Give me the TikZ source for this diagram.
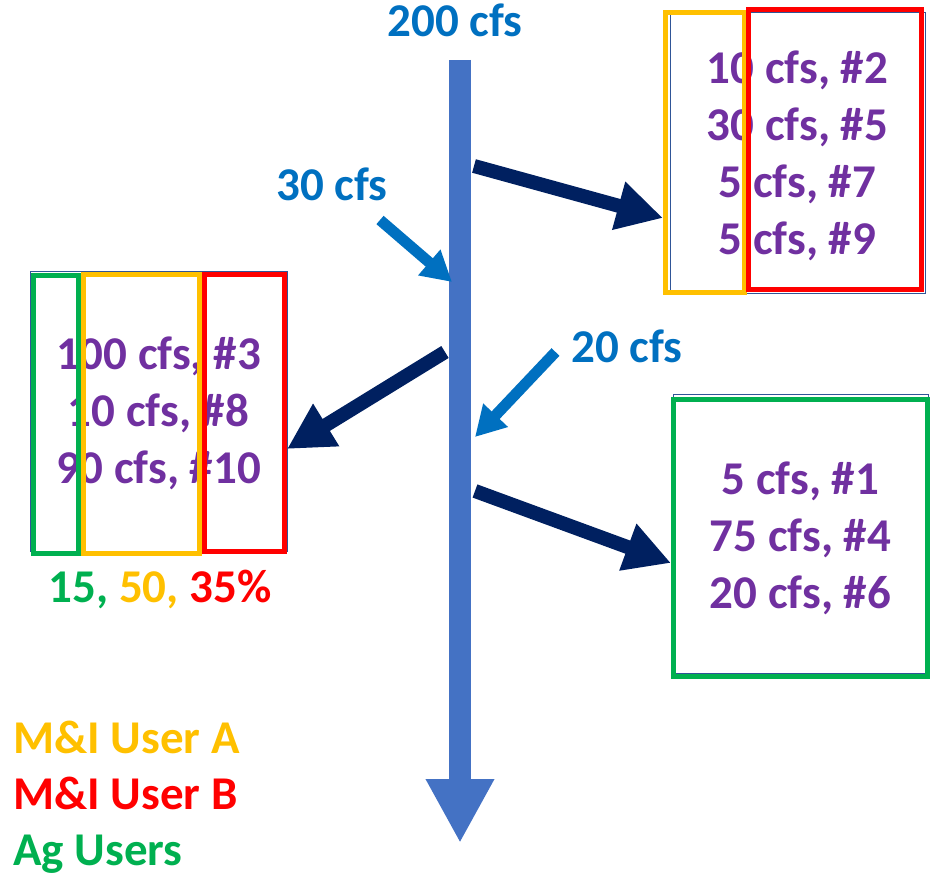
\documentclass[tikz,border=0pt]{standalone}
\usepackage{fontspec}
\setmainfont{Carlito}
\usepackage{tikz}
\usetikzlibrary{
  arrows.meta,
  positioning,  % Function "of" (e.g. [below=of x])
}
\definecolor{flowblue}{HTML}{4472C4}
\definecolor{inblue}{HTML}{0070C0}
\definecolor{navy}{HTML}{002060}
\definecolor{rightcol}{HTML}{7030A0}
\definecolor{userA}{HTML}{FFC000}
\definecolor{userB}{HTML}{FF0000}
\definecolor{aguser}{HTML}{00B050}
\definecolor{boxline}{HTML}{2F5597}
\newcommand{\cfsof}[2]{#1 cfs, \##2}
\def\mylinedist{42pt}
\tikzset{
  font=\fontsize{35.25}{42.75}\selectfont\bfseries,
  px/.style={
    x=0.75pt,
    y=-0.75pt
  },
  main flow/.style={
    flowblue,
    line width=16.5pt,
    -{Triangle[length=48pt,width=48pt]}
  },
  inflow/.style={
    inblue,
    line width=8.25pt,
    -{Triangle[length=22.5pt,width=24pt]}
  },
  outflow/.style={
    navy,
    line width=10.5pt,
    -{Triangle[length=34.5pt,width=35pt]}
  },
  flow label/.style={
    text=inblue,
    anchor=base
  },
  rights/.style={
    text=rightcol,
    align=center,
    inner sep=0pt
  },
  thin box/.style={
    draw=boxline,
    line width=0.75pt
  },
  share/.style={
    line width=3.75pt
  },
  legend/.style={
    anchor=base west,
    inner sep=0pt
  }
}

\begin{document}
\begin{tikzpicture}[px]
\useasboundingbox (0,0) rectangle (933,874);
% Main channel
\node[flow label] (total) at (455,37) {200 cfs};
\coordinate (src)  at (460,60);
\coordinate (sink) at (460,843);
\draw[main flow] (src) -- (sink);
% Inflows
\node[flow label] (in30) at (332,200) {30 cfs};
\node[flow label] (in20) at (627,362) {20 cfs};
\coordinate (i1) at (380,220);   \coordinate (j1) at (452,282);
\coordinate (i2) at (555.5,352); \coordinate (j2) at (475,437);
\draw[inflow] (i1) -- (j1);
\draw[inflow] (i2) -- (j2);
% Diversion boxes
\draw[thin box] (670,13)  rectangle (925,293);
\draw[thin box] (30,271)  rectangle (287,551);
\draw[thin box] (673,394) rectangle (928,673);
\node[rights] (ne) at (797.5,156)
  {\cfsof{10}{2}\\\cfsof{30}{5}\\\cfsof{5}{7}\\\cfsof{5}{9}};
\node[rights] (w) at (158.5,413)
  {\cfsof{100}{3}\\\cfsof{10}{8}\\\cfsof{90}{10}};
\node[rights] (se) at (800.5,538.5)
  {\cfsof{5}{1}\\\cfsof{75}{4}\\\cfsof{20}{6}};
% User shares on top of the boxes
\draw[share,userA]  (665.5,12.5) rectangle (744.5,292);
\draw[share,userB]  (748.5,10)   rectangle (921,289);
\draw[share,aguser] (33.5,275.5) rectangle (78,553.5);
\draw[share,userA]  (83.5,274.5) rectangle (199.5,553);
\draw[share,userB]  (204.5,274.5) rectangle (284.5,551.5);
\draw[share,aguser] (673.5,399)  rectangle (927.5,676.5);
\node[anchor=base] (shares) at (160,602)
  {\color{aguser}15, \color{userA}50, \color{userB}35\%};
% Outflows to the boxes
\coordinate (o1) at (474,166); \coordinate (t1) at (663,218);
\coordinate (o2) at (445,352); \coordinate (t2) at (287,449);
\coordinate (o3) at (475,491); \coordinate (t3) at (671,563);
\draw[outflow] (o1) -- (t1);
\draw[outflow] (o2) -- (t2);
\draw[outflow] (o3) -- (t3);
% Legend
\node[legend,text=userA] (legA) at (13,753) {M\&I User A};
\node[legend,text=userB,below=\mylinedist of legA.base west,anchor=base west] (legB) {M\&I User B};
\node[legend,text=aguser,below=\mylinedist of legB.base west,anchor=base west] (legAg) {Ag Users};
\end{tikzpicture}
\end{document}
